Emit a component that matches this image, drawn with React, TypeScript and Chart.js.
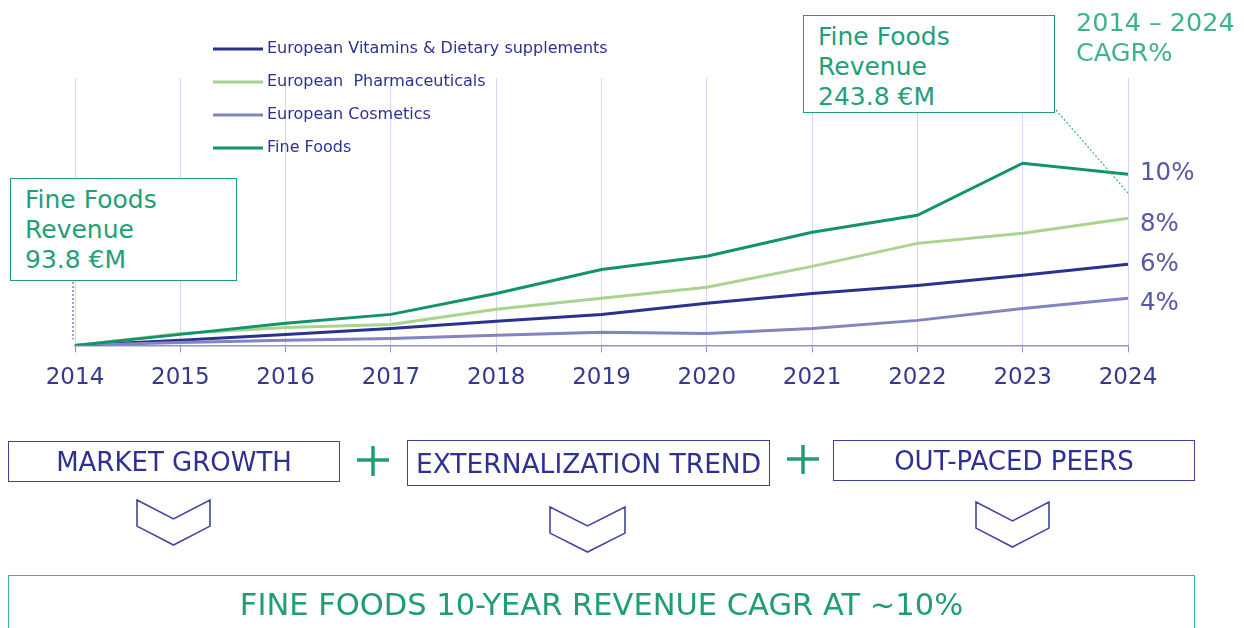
import React, { useEffect, useRef } from 'react';
import { Chart, registerables } from 'chart.js';

Chart.register(...registerables);

// ---- data (index, 2014 = 100) ----
const years = ['2014', '2015', '2016', '2017', '2018', '2019', '2020', '2021', '2022', '2023', '2024'];
const vitamins = [100, 104.7, 110.3, 115.9, 122.5, 129, 139.3, 148.6, 156.1, 165.5, 175.8];
const pharma = [100, 111.2, 116.8, 119.6, 133.7, 144, 154.3, 173.9, 195.4, 204.8, 218.8];
const cosmetics = [100, 102.8, 104.7, 106.5, 109.4, 112.2, 111.2, 115.9, 123.4, 134.6, 144];
const fineFoods = [100, 110.3, 120.6, 129, 148.6, 171, 183.3, 205.7, 221.6, 270.3, 260];
const seriesNames = [
  'European Vitamins & Dietary supplements',
  'European  Pharmaceuticals',
  'European Cosmetics',
  'Fine Foods',
];
const seriesColors = ['#2a3290', '#a9d48e', '#8285bf', '#13936b'];
const cagrLabels = ['6%', '8%', '4%', '10%'];
const startRevenue = ['Fine Foods', 'Revenue', '93.8 €M'];
const endRevenue = ['Fine Foods', 'Revenue', '243.8 €M'];
const cagrTitle = ['2014 – 2024', 'CAGR%'];
const drivers = ['MARKET GROWTH', 'EXTERNALIZATION TREND', 'OUT-PACED PEERS'];
const conclusion = 'FINE FOODS 10-YEAR REVENUE CAGR AT ~10%';

const FONT = '"DejaVu Sans", Verdana, sans-serif';
const NAVY = '#2e3192';
const GREEN = '#1f9e72';

const overlayPlugin = {
  id: 'overlay',
  afterDatasetsDraw(chart: any) {
    const ctx = chart.ctx;
    const xs = chart.scales.x;
    const ys = chart.scales.y;
    ctx.save();
    // legend
    chart.data.datasets.forEach((ds: any, i: number) => {
      const y = 49 + i * 33;
      ctx.strokeStyle = ds.borderColor;
      ctx.lineWidth = 3;
      ctx.beginPath();
      ctx.moveTo(213, y);
      ctx.lineTo(263, y);
      ctx.stroke();
      ctx.fillStyle = NAVY;
      ctx.font = '16px ' + FONT;
      ctx.textBaseline = 'middle';
      ctx.textAlign = 'left';
      ctx.fillText(ds.label, 267, y);
    });
    // CAGR labels at the end of each line
    const offsets = [0, 6, 5, -1];
    chart.data.datasets.forEach((ds: any, i: number) => {
      const last = ds.data.length - 1;
      const y = ys.getPixelForValue(ds.data[last]) + offsets[i];
      ctx.fillStyle = '#5558a6';
      ctx.font = '24.5px ' + FONT;
      ctx.textBaseline = 'middle';
      ctx.textAlign = 'left';
      ctx.fillText(cagrLabels[i], xs.getPixelForValue(last) + 12, y);
    });
    // leader lines
    ctx.lineWidth = 1.2;
    ctx.setLineDash([2, 2]);
    ctx.strokeStyle = '#5f62b0';
    const x0 = xs.getPixelForValue(0) - 2;
    ctx.beginPath();
    ctx.moveTo(x0, 282);
    ctx.lineTo(x0, ys.getPixelForValue(fineFoods[0]) - 6);
    ctx.stroke();
    ctx.strokeStyle = '#3db38b';
    ctx.beginPath();
    ctx.moveTo(1056, 110);
    ctx.lineTo(xs.getPixelForValue(years.length - 1), 193);
    ctx.stroke();
    ctx.restore();
  },
};

function Box({ left, top, width, height, lines }: any) {
  return (
    <div
      style={{
        position: 'absolute',
        left,
        top,
        width,
        height,
        boxSizing: 'border-box',
        border: '1.5px solid ' + GREEN,
        padding: '6px 0 0 14px',
        fontFamily: FONT,
        fontSize: 25,
        lineHeight: '30px',
        color: '#1fa078',
        background: 'white',
        whiteSpace: 'nowrap',
      }}
    >
      {lines.map((l: string, i: number) => (
        <div key={i}>{l}</div>
      ))}
    </div>
  );
}

function DriverBox({ left, top, width, height, text, size }: any) {
  return (
    <div
      style={{
        position: 'absolute',
        left,
        top,
        width,
        height,
        boxSizing: 'border-box',
        border: '1.5px solid #3d4199',
        fontFamily: FONT,
        fontSize: size,
        color: NAVY,
        display: 'flex',
        alignItems: 'center',
        justifyContent: 'center',
        whiteSpace: 'nowrap',
      }}
    >
      {text}
    </div>
  );
}

function chevron(x: number, y: number, w: number, h: number) {
  const pts = [
    [x, y],
    [x + w / 2, y + 0.42 * h],
    [x + w, y],
    [x + w, y + 0.58 * h],
    [x + w / 2, y + h],
    [x, y + 0.58 * h],
  ];
  return pts.map((p) => p.join(',')).join(' ');
}

export default function App() {
  const ref = useRef<HTMLCanvasElement>(null);

  useEffect(() => {
    if (!ref.current) return;
    const seriesData = [vitamins, pharma, cosmetics, fineFoods];
    const chart = new Chart(ref.current, {
      type: 'line',
      data: {
        labels: years,
        datasets: seriesData.map((d, i) => ({
          label: seriesNames[i],
          data: d,
          borderColor: seriesColors[i],
          backgroundColor: seriesColors[i],
          borderWidth: 3,
          pointRadius: 0,
          tension: 0,
          order: 3 - i,
        })),
      },
      options: {
        animation: false,
        responsive: true,
        maintainAspectRatio: false,
        layout: { padding: { left: 75, right: 116, top: 78, bottom: 224 } },
        plugins: { legend: { display: false }, tooltip: { enabled: false } },
        scales: {
          x: {
            offset: false,
            grid: { color: '#d3d5f3', lineWidth: 1, tickLength: 7, tickColor: '#8f92cc' },
            border: { color: '#8f92cc', width: 1.5 },
            ticks: {
              color: '#363a8f',
              font: { family: FONT, size: 23 },
              padding: 12,
              maxRotation: 0,
              autoSkip: false,
            },
          },
          y: { display: false, min: 100, max: 350 },
        },
      },
      plugins: [overlayPlugin],
    });
    return () => chart.destroy();
  }, []);

  return (
    <div style={{ position: 'absolute', left: 0, top: 0, width: 1244, height: 628, overflow: 'hidden', background: 'white' }}>
      <div style={{ position: 'absolute', left: 0, top: 0, width: 1244, height: 628 }}>
        <canvas ref={ref} />
      </div>
      <Box left={10} top={178} width={227} height={103} lines={startRevenue} />
      <Box left={803} top={15} width={252} height={98} lines={endRevenue} />
      <div
        style={{
          position: 'absolute',
          left: 1076,
          top: 7,
          fontFamily: FONT,
          fontSize: 25.5,
          lineHeight: '30px',
          color: '#3db38b',
          whiteSpace: 'nowrap',
        }}
      >
        {cagrTitle.map((l, i) => (
          <div key={i}>{l}</div>
        ))}
      </div>
      <DriverBox left={8} top={441} width={332} height={41} text={drivers[0]} size={26} />
      <DriverBox left={407} top={440} width={363} height={46} text={drivers[1]} size={26.5} />
      <DriverBox left={833} top={440} width={362} height={41} text={drivers[2]} size={26} />
      <svg style={{ position: 'absolute', left: 0, top: 0 }} width={1244} height={628}>
        <g stroke={GREEN} strokeWidth={3.5}>
          <line x1={357} y1={460} x2={389} y2={460} />
          <line x1={373} y1={446} x2={373} y2={476} />
          <line x1={787} y1={459} x2={819} y2={459} />
          <line x1={803} y1={445} x2={803} y2={474} />
        </g>
        <g fill="none" stroke="#4046a0" strokeWidth={1.6}>
          <polygon points={chevron(137, 500, 73, 45)} />
          <polygon points={chevron(550, 507, 75, 45)} />
          <polygon points={chevron(976, 502, 73, 45)} />
        </g>
      </svg>
      <div
        style={{
          position: 'absolute',
          left: 8,
          top: 575,
          width: 1187,
          height: 80,
          boxSizing: 'border-box',
          border: '1.5px solid #3cb58e',
          fontFamily: FONT,
          fontSize: 30.5,
          color: GREEN,
          textAlign: 'center',
          paddingTop: 11,
          whiteSpace: 'nowrap',
        }}
      >
        {conclusion}
      </div>
    </div>
  );
}
